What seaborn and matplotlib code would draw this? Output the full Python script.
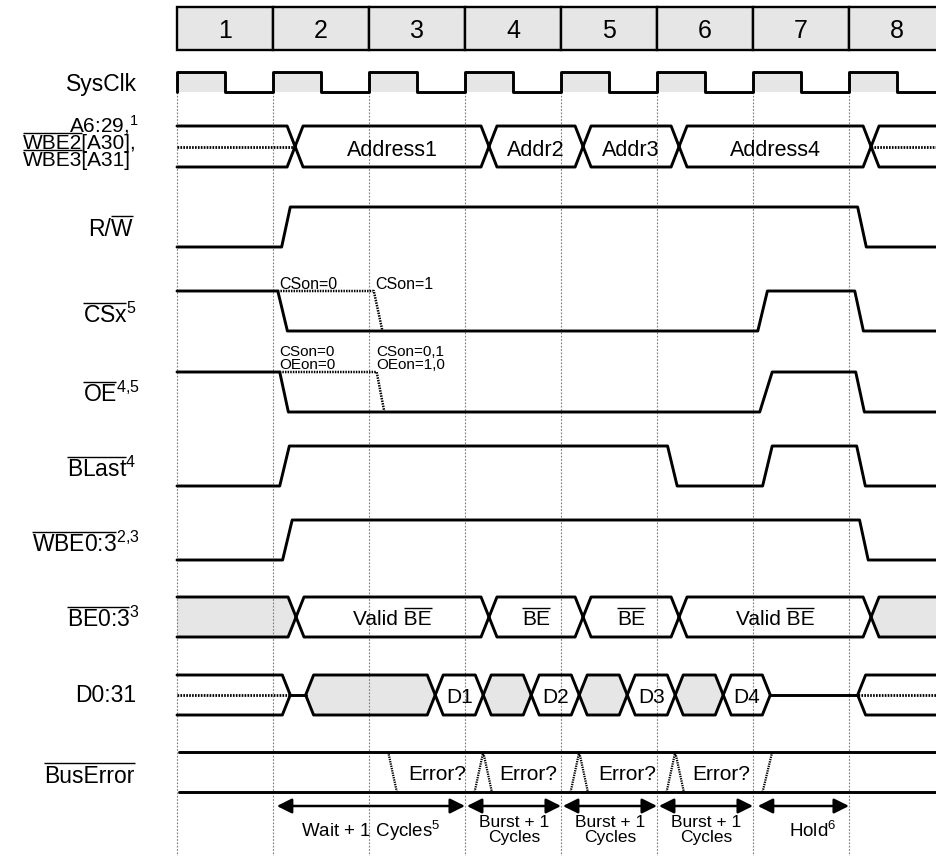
import matplotlib
matplotlib.use('Agg')
import matplotlib.pyplot as plt
import seaborn as sns

# ------------------------------------------------------------------ data
cycle_labels = ['1', '2', '3', '4', '5', '6', '7', '8']
cycle_start = [0, 1, 2, 3, 4, 5, 6, 7]
t_end = 7.92

clk_rise = [0, 1, 2, 3, 4, 5, 6, 7]
clk_fall = [0.5, 1.5, 2.5, 3.5, 4.5, 5.5, 6.5, 7.5]

rw_t = [0.0, 1.09, 1.18, 7.09, 7.18, t_end]
rw_v = [0, 0, 1, 1, 0, 0]
csx_t = [0.0, 1.05, 1.15, 6.05, 6.15, 7.06, 7.15, t_end]
csx_v = [1, 1, 0, 0, 1, 1, 0, 0]
csx_alt_t = [1.05, 2.05, 2.14]
csx_alt_v = [1, 1, 0]
oe_t = [0.0, 1.07, 1.16, 6.07, 6.20, 7.07, 7.16, t_end]
oe_v = [1, 1, 0, 0, 1, 1, 0, 0]
oe_alt_t = [1.07, 2.08, 2.16]
oe_alt_v = [1, 1, 0]
blast_t = [0.0, 1.07, 1.17, 5.11, 5.21, 6.10, 6.20, 7.08, 7.17, t_end]
blast_v = [0, 0, 1, 1, 0, 0, 1, 1, 0, 0]
wbe_t = [0.0, 1.10, 1.20, 7.11, 7.20, t_end]
wbe_v = [0, 0, 1, 1, 0, 0]

addr_edges = [0.0, 1.23, 3.25, 4.23, 5.23, 7.23, t_end]
addr_kind = ['unknown', 'valid', 'valid', 'valid', 'valid', 'unknown']
addr_text = ['', 'Address1', 'Addr2', 'Addr3', 'Address4', '']

be_edges = [0.0, 1.24, 3.25, 4.23, 5.23, 7.23, t_end]
be_kind = ['gray', 'valid', 'valid', 'valid', 'valid', 'gray']
be_text_pre = ['', 'Valid ', '', '', 'Valid ', '']
be_text_over = ['', 'BE', 'BE', 'BE', 'BE', '']

d_edges = [0.0, 1.18, 1.34, 2.69, 3.19, 3.69, 4.19, 4.69, 5.19, 5.69, 6.18, 7.09, t_end]
d_kind = ['unknown', 'float', 'gray', 'valid', 'gray', 'valid', 'gray', 'valid',
          'gray', 'valid', 'float', 'unknown']
d_text = ['', '', '', 'D1', '', 'D2', '', 'D3', '', 'D4', '', '']

err_glitch_t = [[2.20, 2.29], [3.10, 3.19, 3.28], [4.10, 4.19, 4.28],
                [5.10, 5.19, 5.28], [6.10, 6.20]]
err_glitch_v = [[1, 0], [0, 1, 0], [0, 1, 0], [0, 1, 0], [0, 1]]
err_text_t = [2.71, 3.66, 4.69, 5.67]
err_text = ['Error?', 'Error?', 'Error?', 'Error?']

span_start = [1.04, 3.02, 4.02, 5.02, 6.05]
span_end = [3.00, 4.00, 5.00, 6.00, 7.00]
span_line1 = ['Wait + 1 Cycles$^{5}$', 'Burst + 1', 'Burst + 1', 'Burst + 1', 'Hold$^{6}$']
span_line2 = ['', 'Cycles', 'Cycles', 'Cycles', '']

cs_note_t = [1.06, 2.06]
cs_note = ['CSon=0', 'CSon=1']
oe_note_t = [1.07, 2.08]
oe_note1 = ['CSon=0', 'CSon=0,1']
oe_note2 = ['OEon=0', 'OEon=1,0']

# ------------------------------------------------------------------ layout
W_PX, H_PX = 937, 856
ORIGIN_PX, CYCLE_PX = 177, 96
X0 = -ORIGIN_PX / CYCLE_PX
X1 = (W_PX - ORIGIN_PX) / CYCLE_PX
GRAY = '#e6e6e6'
LW = 2.1
TW = 0.083          # half width of a bus transition (cycles)
LABEL_X = -0.42

rows = {
    'clk': (72, 92), 'addr': (126, 167), 'rw': (207, 247), 'csx': (291, 331),
    'oe': (372, 412), 'blast': (446, 486), 'wbe': (520, 560), 'be': (597, 637),
    'd': (675, 715), 'err': (752, 792),
}
ARROW_Y = 806

sns.set_theme(style='white')
plt.rcParams['font.family'] = ['Liberation Sans', 'DejaVu Sans']
plt.rcParams['text.color'] = 'black'
plt.rcParams['mathtext.fontset'] = 'custom'
plt.rcParams['mathtext.rm'] = 'Liberation Sans'
plt.rcParams['mathtext.it'] = 'Liberation Sans:italic'
plt.rcParams['mathtext.bf'] = 'Liberation Sans:bold'
plt.rcParams['mathtext.sf'] = 'Liberation Sans'

fig = plt.figure(figsize=(W_PX / 100, H_PX / 100), dpi=100)
ax = fig.add_axes([0, 0, 1, 1])
ax.set_xlim(X0, X1)
ax.set_ylim(H_PX, 0)
ax.axis('off')
renderer = fig.canvas.get_renderer()


def lvl(v, row):
    hi, lo = rows[row]
    return [lo + (hi - lo) * x for x in v]


def wave(t, y, **kw):
    sns.lineplot(x=t, y=y, sort=False, estimator=None, color='black',
                 linewidth=kw.pop('lw', LW), ax=ax, legend=False, zorder=3, **kw)


def dotted(t, y, lw=1.8):
    ax.plot(t, y, color='black', lw=lw, linestyle=(0, (0.6, 0.45)),
            solid_capstyle='butt', zorder=3)


def overlined(x, y, before, over, after='', sup='', fs=15, ha='right', gap=3.5):
    s = before + over + after + (r'$^{%s}$' % sup if sup else '')
    txt = ax.text(x, y, s, fontsize=fs, ha=ha, va='baseline', zorder=5, color='black')
    if not over:
        return
    bb = txt.get_window_extent(renderer)
    prop = txt.get_fontproperties()
    w_over = renderer.get_text_width_height_descent(over, prop, ismath=False)[0]
    if before == '':
        x0p, x1p = bb.x0, bb.x0 + w_over
    else:
        x1p = bb.x1
        x0p = x1p - w_over
    cap = 0.716 * fs * 100 / 72
    yl = y - cap - gap
    ax.plot([X0 + x0p / CYCLE_PX, X0 + x1p / CYCLE_PX], [yl, yl], color='black',
            lw=1.0, solid_capstyle='butt', zorder=5)


def bus(row, edges, kinds):
    top, bot = rows[row]
    mid = (top + bot) / 2
    n = len(kinds)
    for i, kind in enumerate(kinds):
        a, b = edges[i], edges[i + 1]
        if kind == 'float':
            wave([a, b], [mid, mid])
            continue
        if i == 0:
            lt, lb = [(a, top)], [(a, bot)]
        else:
            lt, lb = [(a, mid), (a + TW, top)], [(a, mid), (a + TW, bot)]
        if i == n - 1:
            rt, rb = [(b, top)], [(b, bot)]
        else:
            rt, rb = [(b - TW, top), (b, mid)], [(b - TW, bot), (b, mid)]
        ptop, pbot = lt + rt, lb + rb
        if kind == 'gray':
            poly = ptop + pbot[::-1]
            ax.fill([p[0] for p in poly], [p[1] for p in poly], color=GRAY, lw=0, zorder=1)
        if kind == 'unknown':
            dotted([a, b], [mid, mid], lw=2.0)
        wave([p[0] for p in ptop], [p[1] for p in ptop])
        wave([p[0] for p in pbot], [p[1] for p in pbot])


# header boxes
ax.bar([c + 0.5 for c in cycle_start], 43, bottom=7, width=1.0, color=GRAY,
       edgecolor='black', linewidth=1.7, zorder=2)
for c, lab in zip(cycle_start, cycle_labels):
    ax.text(c + 0.5, 38, lab, ha='center', va='baseline', fontsize=18, zorder=5)

# cycle grid
for c in cycle_start:
    ax.plot([c, c], [92, H_PX], color='#7a7a7a', lw=0.8, linestyle=(0, (1.5, 1.5)), zorder=1.5)

# clock
ct, cv = [0.0], [0]
for r, f in zip(clk_rise, clk_fall):
    ct += [r, r, f, f]
    cv += [0, 1, 1, 0]
    ax.fill_between([r, f], rows['clk'][0], rows['clk'][1], color=GRAY, lw=0, zorder=1)
ct.append(t_end)
cv.append(0)
wave(ct, lvl(cv, 'clk'))

# single-bit signals
wave(rw_t, lvl(rw_v, 'rw'))
wave(csx_t, lvl(csx_v, 'csx'))
dotted(csx_alt_t, lvl(csx_alt_v, 'csx'))
wave(oe_t, lvl(oe_v, 'oe'))
dotted(oe_alt_t, lvl(oe_alt_v, 'oe'))
wave(blast_t, lvl(blast_v, 'blast'))
wave(wbe_t, lvl(wbe_v, 'wbe'))

# buses
bus('addr', addr_edges, addr_kind)
bus('be', be_edges, be_kind)
bus('d', d_edges, d_kind)

amid = sum(rows['addr']) / 2
for i, s in enumerate(addr_text):
    if s:
        ax.text((addr_edges[i] + addr_edges[i + 1]) / 2, amid + 9, s, ha='center',
                va='baseline', fontsize=15.5, zorder=5)
bmid = sum(rows['be']) / 2
for i, s in enumerate(be_text_over):
    if s:
        overlined((be_edges[i] + be_edges[i + 1]) / 2, bmid + 8, be_text_pre[i], s,
                  fs=15, ha='center', gap=2.5)
dmid = sum(rows['d']) / 2
for i, s in enumerate(d_text):
    if s:
        ax.text((d_edges[i] + d_edges[i + 1]) / 2, dmid + 8, s, ha='center',
                va='baseline', fontsize=15, zorder=5)

# bus error
wave([0.02, t_end], [rows['err'][0]] * 2)
wave([0.02, t_end], [rows['err'][1]] * 2)
for gt, gv in zip(err_glitch_t, err_glitch_v):
    dotted(gt, lvl(gv, 'err'), lw=1.6)
emid = sum(rows['err']) / 2
for t, s in zip(err_text_t, err_text):
    ax.text(t, emid + 8, s, ha='center', va='baseline', fontsize=15, zorder=5)

# annotations on CSx / OE
for t, s in zip(cs_note_t, cs_note):
    ax.text(t, 289, s, ha='left', va='baseline', fontsize=11.5, zorder=5)
for t, s1, s2 in zip(oe_note_t, oe_note1, oe_note2):
    ax.text(t, 356, s1, ha='left', va='baseline', fontsize=11, zorder=5)
    ax.text(t, 369, s2, ha='left', va='baseline', fontsize=11, zorder=5)

# cycle spans
for a, b, s1, s2 in zip(span_start, span_end, span_line1, span_line2):
    ax.annotate('', xy=(b, ARROW_Y), xytext=(a, ARROW_Y),
                arrowprops=dict(arrowstyle='<|-|>,head_length=0.9,head_width=0.45',
                                mutation_scale=10, color='black', lw=1.8,
                                shrinkA=0, shrinkB=0), zorder=4)
    xm = (a + b) / 2
    if s2:
        ax.text(xm, 827, s1, ha='center', va='baseline', fontsize=12.5, zorder=5)
        ax.text(xm, 842, s2, ha='center', va='baseline', fontsize=12.5, zorder=5)
    else:
        ax.text(xm + (0.1 if 'Hold' in s1 else 0), 837, s1, ha='center',
                va='baseline', fontsize=13.5, zorder=5)

# signal names
LFS = 16.5
AFS = 15
ax.text(LABEL_X, 91, 'SysClk', ha='right', va='baseline', fontsize=LFS, zorder=5)
ax.text(LABEL_X + 0.02, 132, 'A6:29,$^{1}$', ha='right', va='baseline', fontsize=AFS, zorder=5)
overlined(LABEL_X, 149, '', 'WBE2', '[A30],', fs=AFS, gap=1.5)
overlined(LABEL_X - 0.06, 166, '', 'WBE3', '[A31]', fs=AFS, gap=1.5)
overlined(LABEL_X - 0.04, 236, 'R/', 'W', fs=LFS)
overlined(LABEL_X, 323, '', 'CSx', sup='5', fs=LFS)
overlined(LABEL_X + 0.03, 402, '', 'OE', sup='4{,}5', fs=LFS)
overlined(LABEL_X, 477, '', 'BLast', sup='4', fs=LFS)
overlined(LABEL_X + 0.03, 552, '', 'WBE0:3', sup='2{,}3', fs=LFS)
overlined(LABEL_X + 0.03, 627, '', 'BE0:3', sup='3', fs=LFS)
ax.text(LABEL_X, 702, 'D0:31', ha='right', va='baseline', fontsize=LFS, zorder=5)
overlined(LABEL_X - 0.02, 783, '', 'BusError', fs=LFS)

ax.set_xlim(X0, X1)
ax.set_ylim(H_PX, 0)
ax.axis('off')
fig.savefig('out.png', dpi=100)
